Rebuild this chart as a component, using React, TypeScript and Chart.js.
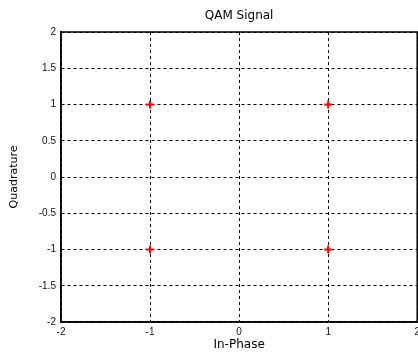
import React, { useEffect, useRef } from "react";
import { Chart, registerables } from "chart.js";

Chart.register(...registerables);

const inPhase = [-1, 1, -1, 1];
const quadrature = [1, 1, -1, -1];
const title = "QAM Signal";
const xTitle = "In-Phase";
const yTitle = "Quadrature";

const FONT = "'Liberation Sans', Arial, sans-serif";
const TFONT = "'DejaVu Sans', sans-serif";

const frame = {
  id: "frame",
  afterDraw(chart: any) {
    const { ctx, chartArea: a } = chart;
    ctx.save();
    ctx.strokeStyle = "#000";
    ctx.lineWidth = 1.5;
    ctx.setLineDash([]);
    ctx.strokeRect(a.left, a.top, a.right - a.left, a.bottom - a.top);
    ctx.restore();
  },
};

export default function App() {
  const ref = useRef<HTMLCanvasElement>(null);
  useEffect(() => {
    document.body.style.margin = "0";
    document.body.style.overflow = "hidden";
    const chart = new Chart(ref.current!, {
      type: "scatter",
      data: {
        datasets: [
          {
            data: inPhase.map((x, i) => ({ x, y: quadrature[i] })),
            pointStyle: "cross",
            radius: 4,
            borderWidth: 2,
            borderColor: "#ff0000",
            backgroundColor: "#ff0000",
          },
        ],
      },
      options: {
        animation: false,
        responsive: false,
        layout: { padding: { left: 0, right: 0, top: 0, bottom: 0 } },
        plugins: {
          legend: { display: false },
          tooltip: { enabled: false },
          title: {
            display: true,
            fullSize: false,
            text: title,
            color: "#000",
            font: { family: TFONT, size: 12, weight: "normal" },
            padding: { top: 9, bottom: 8.6 },
          },
        },
        scales: {
          x: {
            type: "linear",
            min: -2,
            max: 2,
            ticks: {
              stepSize: 1,
              color: "#111",
              font: { family: FONT, size: 10 },
              padding: 4,
              maxRotation: 0,
              callback: (v: any) => String(v),
            },
            grid: { color: "#000", lineWidth: 1, drawTicks: false },
            border: { display: true, color: "#000", width: 1.5, dash: [3, 3] },
            title: {
              display: true,
              text: xTitle,
              color: "#000",
              font: { family: TFONT, size: 12 },
              padding: { top: 0, bottom: 0 },
            },
            afterFit(scale: any) {
              scale.height = 30;
            },
          },
          y: {
            type: "linear",
            min: -2,
            max: 2,
            ticks: {
              stepSize: 0.5,
              color: "#111",
              font: { family: FONT, size: 10 },
              padding: 5,
              callback: (v: any) => String(v),
            },
            grid: { color: "#000", lineWidth: 1, drawTicks: false },
            border: { display: true, color: "#000", width: 1.5, dash: [3, 3] },
            title: {
              display: true,
              text: yTitle,
              color: "#000",
              font: { family: TFONT, size: 11 },
              padding: { top: 8, bottom: 0 },
            },
            afterFit(scale: any) {
              scale.width = 61;
            },
          },
        },
      },
      plugins: [frame],
    });
    return () => chart.destroy();
  }, []);
  return (
    <div style={{ position: "absolute", left: 0, top: 0, width: 418, height: 352, overflow: "hidden" }}>
      <canvas ref={ref} width={424} height={352} />
    </div>
  );
}
